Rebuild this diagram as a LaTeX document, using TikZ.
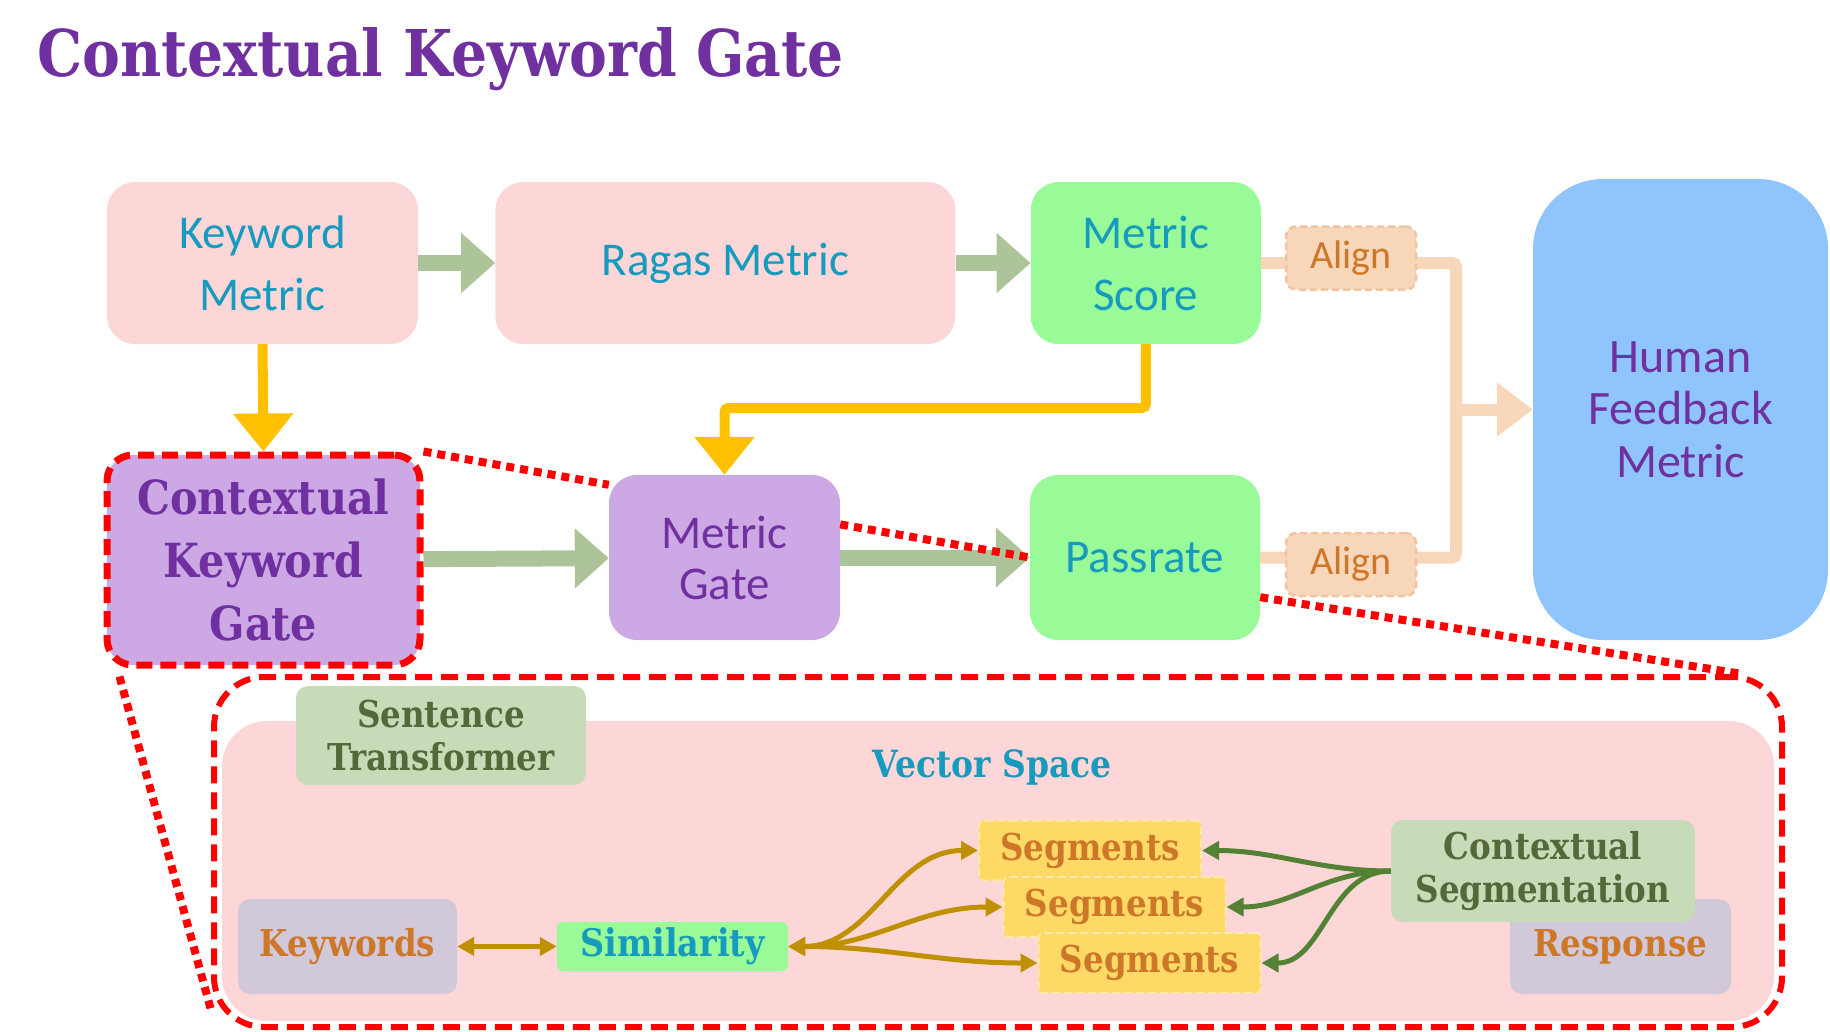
\documentclass[tikz,border=0pt]{standalone}
\usepackage{fontspec}
\setmainfont{Carlito}
\newfontfamily\slab[FakeStretch=0.88]{DejaVu Serif}
\usetikzlibrary{arrows.meta, calc, positioning}
\definecolor{tealtxt}{RGB}{22,155,190}
\definecolor{purptxt}{RGB}{112,48,160}
\definecolor{orgtxt}{RGB}{205,120,40}
\definecolor{olvtxt}{RGB}{86,104,58}
\definecolor{pinkbg}{RGB}{253,215,215}
\definecolor{grnbg}{RGB}{152,251,152}
\definecolor{purpbg}{RGB}{204,168,228}
\definecolor{bluebg}{RGB}{143,196,252}
\definecolor{peach}{RGB}{248,214,186}
\definecolor{peachdk}{RGB}{240,196,160}
\definecolor{sage}{RGB}{173,196,154}
\definecolor{ylw}{RGB}{255,192,0}
\definecolor{stbg}{RGB}{200,219,184}
\definecolor{kwbg}{RGB}{209,200,218}
\definecolor{sgbg}{RGB}{255,217,102}
\definecolor{gold}{RGB}{191,144,0}
\definecolor{dgrn}{RGB}{84,130,53}

\begin{document}
\begin{tikzpicture}[x=1pt, y=-1pt, >={Triangle[width=18pt,length=17pt]},
    box/.style={rounded corners=28pt, inner sep=0pt, align=center, text=tealtxt, font=\fontsize{47}{62}\selectfont},
    sbox/.style={rounded corners=12pt, inner sep=0pt, align=center, text=orgtxt, font=\slab\bfseries\fontsize{37}{43}\selectfont},
    align box/.style={rounded corners=10pt, inner sep=0pt, fill=peach, draw=peachdk, line width=2.5pt, dash pattern=on 7pt off 4pt, text=orgtxt, font=\fontsize{40}{44}\selectfont, minimum width=130pt, minimum height=63pt},
    fat/.style={sage, line width=16pt, -{Triangle[width=58pt,length=34pt]}},
    yl/.style={ylw, line width=10pt, -{Triangle[width=58pt,length=38pt]}},
    zoomline/.style={red, line width=8pt, dash pattern=on 8pt off 6pt},
    ln/.style={line width=5pt}]
\useasboundingbox (0,0) rectangle (1830,1031);
\node[anchor=west, inner sep=0pt, text=purptxt, font=\slab\bfseries\fontsize{64.5}{70}\selectfont] (title) at (37,59) {Contextual Keyword Gate};

\node[box, fill=pinkbg, minimum width=311pt, minimum height=162pt] (km) at (262.5,263) {Keyword\\Metric};
\node[box, fill=pinkbg, minimum width=460pt, minimum height=162pt, right=77pt of km] (rm) {Ragas Metric};
\node[box, fill=grnbg, minimum width=230pt, minimum height=162pt, right=75pt of rm] (ms) {Metric\\Score};
\node[box, fill=bluebg, rounded corners=70pt, text=purptxt, minimum width=295pt, minimum height=461pt, font=\fontsize{48}{52.5}\selectfont] (hf) at (1680.5,409.5) {Human\\Feedback\\Metric};
\node[box, fill=purpbg, text=purptxt, draw=red, line width=7pt, dash pattern=on 16pt off 8pt, rounded corners=26pt, minimum width=313pt, minimum height=210pt, font=\slab\bfseries\fontsize{47}{63}\selectfont] (ckg) at (263.5,560) {Contextual\\Keyword\\Gate};
\node[box, fill=purpbg, text=purptxt, minimum width=231pt, minimum height=165pt, font=\fontsize{47}{51}\selectfont] (mg) at (724.5,557.5) {Metric\\Gate};
\node[box, fill=grnbg, minimum width=230pt, minimum height=165pt] (pr) at (1145,557.5) {Passrate};

\coordinate (j) at (1456,409.5);
\draw[peach, line width=12pt, rounded corners=4pt] (ms.east) -| (j) |- (pr.east);
\draw[peach, line width=12pt, -{Triangle[width=52pt,length=36pt]}] (j) -- (hf.west);
\node[align box] (al1) at (1351,258) {Align};
\node[align box] (al2) at (1351,564.5) {Align};

\draw[fat] (km) -- (rm);
\draw[fat] (rm) -- (ms);
\draw[fat] (ckg) -- (mg);
\draw[fat] (mg) -- (pr);
\coordinate (yb) at (1145,408);
\draw[yl] (km.south) -- (ckg.north);
\draw[yl, rounded corners=4pt] (ms.south) |- (mg.north |- yb) -- (mg.north);

\node[fill=pinkbg, rounded corners=45pt, inner sep=0pt, minimum width=1552pt, minimum height=300pt] (vs) at (998,871) {};
\node[draw=red, line width=6pt, dash pattern=on 17pt off 9pt, rounded corners=50pt, inner sep=0pt, minimum width=1568pt, minimum height=350pt] (zoom) at (998,852) {};

\draw[zoomline] (ckg.north east) -- ($(mg.north west)+(0,10)$);
\draw[zoomline] ($(mg.north east)!0.3!(mg.south east)$) -- (pr.west);
\draw[zoomline] ($(pr.north east)!0.74!(pr.south east)$) -- ($(zoom.north east)+(-43,0)$);
\draw[zoomline] ($(ckg.south west)+(16,8)$) -- ($(zoom.south west)+(0,-20)$);

\node[sbox, fill=stbg, text=olvtxt, minimum width=290pt, minimum height=99pt] (st) at (441,735.5) {Sentence\\Transformer};
\node[text=tealtxt, font=\slab\bfseries\fontsize{37.5}{40}\selectfont] (vsl) at (992,767) {Vector Space};
\node[sbox, fill=kwbg, minimum width=219pt, minimum height=95pt] (kw) at (347.5,946.5) {Keywords};
\node[sbox, fill=grnbg, text=tealtxt, rounded corners=6pt, minimum width=231pt, minimum height=49pt, font=\slab\bfseries\fontsize{38}{43}\selectfont] (sim) at (672.5,946.5) {Similarity};
\node[sbox, fill=kwbg, minimum width=221pt, minimum height=95pt] (rsp) at (1620.5,946.5) {Response};
\node[sbox, fill=stbg, text=olvtxt, minimum width=304pt, minimum height=102pt] (cs) at (1543,871) {Contextual\\Segmentation};
\foreach \i/\x/\y in {1/1090/850.5, 2/1114.5/907, 3/1149.5/963}
\node[sbox, fill=sgbg, draw=white!45!sgbg, line width=2pt, dash pattern=on 8pt off 4pt, rounded corners=4pt, minimum width=222pt, minimum height=60pt] (sg\i) at (\x,\y) {Segments};

\draw[ln, gold, <->] (kw) -- (sim);
\foreach \i in {1,2,3}
\draw[ln, gold, <->] (sim.east) to[out=0, in=180] (sg\i.west);
\foreach \i in {1,2,3}
\draw[ln, dgrn, ->] (cs.west) to[out=180, in=0] (sg\i.east);
\end{tikzpicture}
\end{document}
